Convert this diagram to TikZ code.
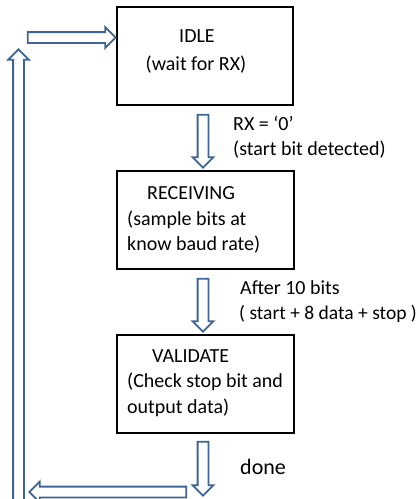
\documentclass[tikz,border=0pt]{standalone}
\usepackage{fontspec}
\setmainfont{Carlito}
\usetikzlibrary{shapes.arrows}
\definecolor{arrowblue}{HTML}{3D6494}
\tikzset{
  stbox/.style={draw=black, line width=1.8pt, rectangle, inner sep=0pt},
  txt/.style={inner sep=0pt, anchor=base west, font=\fontsize{20}{25}\selectfont},
  ctxt/.style={inner sep=0pt, anchor=base, font=\fontsize{20}{25}\selectfont},
  barrow/.style={single arrow, draw=arrowblue, fill=white, line width=1.8pt,
    inner sep=4.5pt, single arrow head extend=5pt, minimum height=#1}
}
\begin{document}
\begin{tikzpicture}[x=1pt,y=-1pt]
\useasboundingbox (0,0) rectangle (420,499);
% state boxes
\node[stbox, minimum width=176, minimum height=98] (idle) at (205,56) {};
\node[stbox, minimum width=177, minimum height=98] (recv) at (205.5,220) {};
\node[stbox, minimum width=177, minimum height=98] (valid) at (205.5,384) {};
% box texts
\node[ctxt] (t1) at (197,42) {IDLE};
\node[ctxt] (t2) at (196,70) {(wait for RX)};
\node[txt] (t3) at (147,199) {RECEIVING};
\node[txt] (t4) at (127,225) {(sample bits at};
\node[txt] (t5) at (127,250) {know baud rate)};
\node[txt] (t6) at (152,362) {VALIDATE};
\node[txt] (t7) at (127,387) {(Check stop bit and};
\node[txt] (t8) at (127,413) {output data)};
% transition labels
\node[txt] (l1) at (233,130) {RX = ‘0’};
\node[txt] (l2) at (233,155) {(start bit detected)};
\node[txt] (l3) at (240,294) {After 10 bits};
\node[txt, font=\fontsize{19.5}{25}\selectfont] (l4) at (239,319) {( start + 8 data + stop )};
\node[txt, font=\fontsize{22}{26}\selectfont] (l5) at (240,474) {done};
% block arrows
\node[barrow=53, rotate=-90] (a1) at (203,138.5) {};
\node[barrow=53, rotate=-90] (a2) at (203,302.5) {};
\node[barrow=54, rotate=-90] (a3) at (203,466) {};
\node[barrow=157, rotate=180] (a4) at (110.5,492) {};
\node[barrow=460, rotate=90] (a5) at (18.5,282) {};
\node[barrow=88] (a6) at (69,37.5) {};
\end{tikzpicture}
\end{document}
